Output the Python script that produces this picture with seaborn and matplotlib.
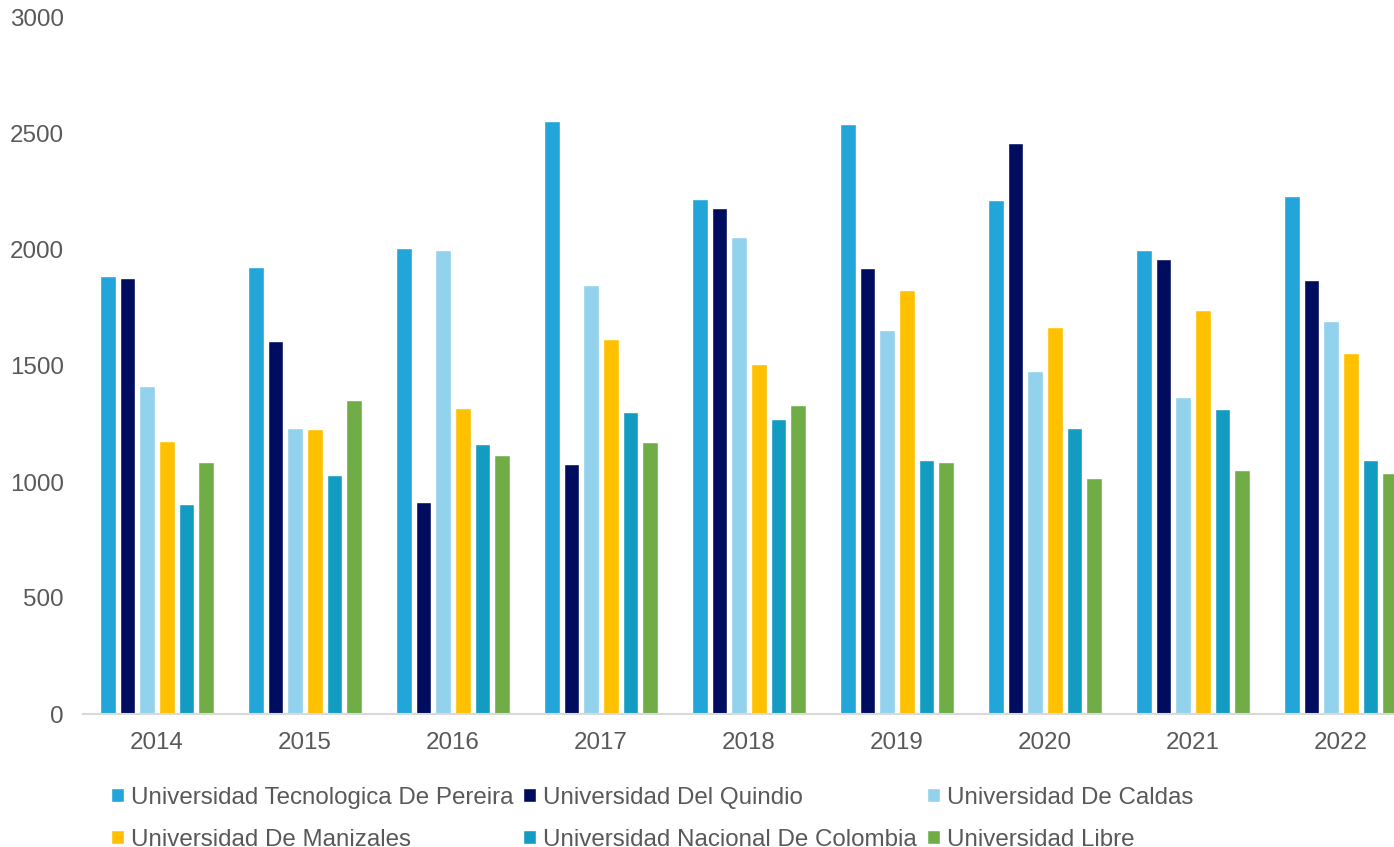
import matplotlib
matplotlib.use("Agg")
import matplotlib.pyplot as plt
import seaborn as sns
import pandas as pd

years = ["2014", "2015", "2016", "2017", "2018", "2019", "2020", "2021", "2022"]
universities = [
    "Universidad Tecnologica De Pereira",
    "Universidad Del Quindio",
    "Universidad De Caldas",
    "Universidad De Manizales",
    "Universidad Nacional De Colombia",
    "Universidad Libre",
]
utp = [1888, 1927, 2009, 2556, 2220, 2543, 2216, 2000, 2233]
quindio = [1879, 1608, 914, 1078, 2181, 1922, 2461, 1961, 1871]
caldas = [1414, 1233, 2000, 1849, 2056, 1655, 1478, 1366, 1694]
manizales = [1177, 1228, 1319, 1616, 1509, 1828, 1668, 1741, 1556]
nacional = [905, 1030, 1164, 1302, 1272, 1095, 1233, 1315, 1095]
libre = [1086, 1353, 1116, 1172, 1332, 1086, 1017, 1052, 1039]
colors = ["#22A6D9", "#000C5E", "#92D2EC", "#FFC000", "#139CC1", "#70AD47"]

series = [utp, quindio, caldas, manizales, nacional, libre]
rows = []
for uni, vals in zip(universities, series):
    for y, v in zip(years, vals):
        rows.append({"Year": y, "University": uni, "Value": v})
df = pd.DataFrame(rows)

sns.set_theme(style="white")
plt.rcParams["font.family"] = ["Liberation Sans", "DejaVu Sans"]

fig = plt.figure(figsize=(13.94, 8.47), dpi=100)
W, H = 1394, 847
ax = fig.add_axes([83 / W, (H - 714) / H, 1332 / W, (714 - 18) / H])

sns.barplot(data=df, x="Year", y="Value", hue="University", order=years,
            hue_order=universities, palette=colors, width=0.795, gap=0.2,
            saturation=1, ax=ax, legend=True)

handles, labels = ax.get_legend_handles_labels()
ax.get_legend().remove()

ax.set_ylim(0, 3000)
ax.set_xlim(-0.5, 8.5)
ax.set_yticks([0, 500, 1000, 1500, 2000, 2500, 3000])
ax.set_xlabel("")
ax.set_ylabel("")
for s in ["top", "right", "left"]:
    ax.spines[s].set_visible(False)
ax.spines["bottom"].set_color("#D9D9D9")
ax.spines["bottom"].set_linewidth(1.5)
ax.tick_params(axis="y", length=0, pad=14, labelsize=17.4, labelcolor="#595959")
ax.tick_params(axis="x", length=0, pad=13, labelsize=17.4, labelcolor="#595959")
ax.grid(False)

order = [0, 3, 1, 4, 2, 5]
fig.legend([handles[i] for i in order], [labels[i] for i in order],
           loc="upper left", bbox_to_anchor=(111 / W, 1 - 787 / H),
           ncol=3, frameon=False, fontsize=17.4, labelcolor="#595959",
           handlelength=0.52, handleheight=0.52, handletextpad=0.3,
           columnspacing=0.42, labelspacing=0.82, borderpad=0, borderaxespad=0)

fig.savefig("out.png", dpi=100)
